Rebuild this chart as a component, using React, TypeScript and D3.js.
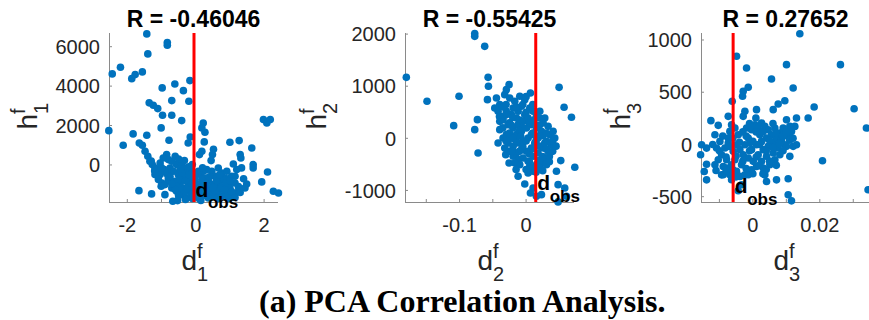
import React from "react";
import * as d3 from "d3";

// Correlation coefficients shown above each panel
const rValues = ["-0.46046", "-0.55425", "0.27652"];
// Observed feature value (vertical red marker) per component
const dObs = [-0.05, 0.0145, -0.0059];

// Component 1: [d1f, h1f]
const comp1: [number, number][] = [
  [-1.43, 6650], [-0.83, 6210], [-0.83, 6075], [-1.4, 5635], [-2.2, 4960], [-2.44, 4620],
  [-1.87, 4380], [-1.77, 4585], [-1.56, 4720], [-0.17, 4280], [-0.61, 4110], [-0.98, 3910],
  [-0.36, 3770], [-0.7, 3265], [-0.2, 3230], [-1.36, 3150], [-1.24, 3030], [-1.11, 2860],
  [-0.97, 2520], [-0.7, 2520], [-0.41, 2250], [-1.01, 1880], [-2.54, 1740], [-1.83, 1575],
  [-1.43, 1505], [-2.12, 1000], [-1.65, 1115], [-1.56, 1000], [-0.78, 1250], [0.22, 2130],
  [0.18, 1880], [0.27, 1660], [0.25, 1170], [-0.16, 1420], [-0.22, 1115], [1.98, 2300],
  [2.08, 2130], [2.18, 2300], [1.27, 1235], [1.0, 1150], [1.64, 860], [1.3, 525], [1.32, 355],
  [0.52, 795], [0.49, 525], [0.18, 695], [0.11, 525], [0.45, 220], [1.1, 50], [1.68, 15],
  [1.68, -150], [1.34, -150], [2.1, -355], [1.93, -860], [2.27, -1335], [2.42, -1420],
  [1.49, -965], [1.44, -1170], [-1.66, -1305], [-1.29, -1470], [-0.67, -1840], [-0.53, -1810],
  [-1.48, 694], [-1.4, 440], [-1.34, 186], [-1.27, 17], [-1.19, -152], [-1.11, -321],
  [-1.04, -491], [-1.19, -491], [-1.09, -744], [-0.99, -914], [-0.9, -998], [-0.85, 525],
  [-0.8, 271], [-0.95, 355], [-0.7, 186], [-0.6, 440], [-0.56, 17], [-0.75, -152],
  [-0.65, -321], [-0.51, -491], [-0.41, 17], [-0.31, -152], [-0.36, -575], [-0.26, -829],
  [-0.46, -998], [-0.6, -829], [-0.7, -1167], [-0.56, -1337], [-0.41, -1506], [-0.31, -1252],
  [-0.21, -998], [-0.17, -1337], [-0.26, -1675], [-0.14, -1506], [-0.19, -575], [-0.12, -321],
  [-0.9, -1506], [0.13, -491], [0.27, -660], [0.37, -829], [0.22, -998], [0.47, -321],
  [0.57, -575], [0.66, -152], [0.76, -406], [0.71, -829], [0.86, -660], [0.96, -998],
  [0.81, -1167], [0.61, -1083], [0.47, -1337], [0.27, -1421], [0.13, -1337], [0.08, -998],
  [0.91, -321], [1.05, -575], [1.15, -914], [1.25, -1337], [1.1, -1506], [0.96, -1506],
  [0.76, -1590], [0.57, -1590], [0.37, -1675], [0.18, -1590], [0.03, -1506], [1.15, -575],
  [1.2, -237], [-0.02, -744], [-0.07, -998], [-1.04, 101], [-0.92, -237], [-0.82, -491],
  [-1.01, -1083], [-0.8, -744], [-0.49, -744], [-0.39, -1167], [-0.1, -744], [-0.23, -321],
  [-0.33, 220], [-0.1, 17], [0.32, -237], [0.52, -998], [0.66, -1337], [0.86, -1421],
  [1.0, -1167], [0.81, -744], [0.22, -321], [0.37, -1167], [0.08, -321], [0.18, -744],
  [-0.85, -300], [-0.75, -600], [-0.65, -900], [-0.55, -1100], [-0.45, -1300], [-0.35, -1450],
  [-0.25, -1200], [-0.15, -900], [-0.05, -1100], [-0.1, -1700], [-0.3, -1750], [-0.5, -1550],
  [-0.6, -1250], [-0.7, -950], [-0.8, -600], [-0.9, -350], [-0.4, -400], [-0.3, -800],
  [-0.2, -500], [-0.05, -500], [0.05, -1250], [0.15, -1800], [0.25, -1200], [0.35, -1450],
  [0.45, -1550], [0.55, -1300], [0.65, -1700], [0.75, -1150], [0.85, -1250], [0.95, -1700],
  [1.05, -1350], [1.15, -1650], [1.25, -1100], [0.4, -600], [0.6, -800], [0.7, -500],
  [0.9, -900], [1.0, -800], [0.3, -950], [0.5, -1150], [-1.2, -300], [-1.3, 200], [-1.0, -150],
  [-0.5, 300], [-0.45, -200], [-0.2, -100], [0.2, -150], [1.4, -700], [1.3, -1400], [0.1, -1700],
];

// Component 2: [d2f, h2f]
const comp2: [number, number][] = [
  [-0.18, 1170], [-0.0772, 2010], [-0.0772, 1957], [-0.0622, 1765], [-0.1489, 710],
  [-0.1008, 806], [-0.1088, 243], [-0.0772, 166], [-0.0732, 358], [-0.0722, -281],
  [-0.0571, 1170], [-0.0566, 998], [-0.0581, 742], [-0.0421, -90], [-0.0256, 1030],
  [-0.0296, 934], [0.0065, 870], [0.0496, 978], [0.0571, 595], [0.0682, 403], [0.0732, -556],
  [0.0521, -428], [0.0456, -633], [0.0481, -889], [0.0581, -953], [0.0607, -1113],
  [0.0481, -1220], [0.0065, -1049], [0.0105, -953], [0.0155, -1113], [0.0231, -1081],
  [-0.012, -729], [-0.002, -876], [0.003, -665], [0.0105, -633], [-0.0256, -473], [-0.0306, -313],
  [-0.0446, 774], [-0.0396, 646], [-0.0421, 518], [-0.0371, 422], [-0.0396, 326], [-0.0321, 838],
  [-0.0246, 774], [-0.017, 710], [-0.0195, 582], [-0.012, 518], [-0.007, 614], [-0.002, 454],
  [-0.0145, 390], [-0.0221, 454], [-0.0296, 518], [-0.0346, 358], [-0.0271, 262], [-0.0195, 198],
  [-0.012, 262], [-0.0045, 326], [0.003, 390], [0.008, 262], [0.0005, 198], [-0.007, 134],
  [-0.0145, 70], [-0.0221, 6], [-0.0296, 70], [-0.0271, -90], [-0.0195, -153], [-0.012, -90],
  [-0.0045, -58], [0.003, 6], [0.008, 70], [0.0155, 198], [0.0206, 390], [0.0256, 294],
  [0.0231, 134], [0.018, 6], [0.013, -90], [0.008, -185], [0.0005, -249], [-0.007, -217],
  [-0.0145, -281], [-0.0195, -345], [-0.012, -409], [-0.0045, -377], [0.003, -441], [0.0105, -345],
  [0.018, -281], [0.0256, -185], [0.0306, -58], [0.0356, 70], [0.0406, 134], [0.0431, 6],
  [0.0381, -122], [0.0331, -249], [0.0281, -377], [0.0231, -473], [0.0155, -505], [0.0306, -505],
  [0.0206, -569], [0.013, -569], [0.0055, -537], [-0.0095, -505], [-0.017, -473], [-0.0246, -249],
  [-0.0321, -185], [-0.0346, 6], [-0.0396, 166], [-0.0471, 582], [0.0331, 230], [0.0206, 518],
  [0.0105, 518], [0.0055, 582], [-0.0095, 806], [-0.002, 742], [0.0155, 422], [0.0281, 390],
  [-0.035, 600], [-0.03, 450], [-0.025, 300], [-0.02, 400], [-0.015, 600], [-0.01, 350],
  [-0.005, 200], [0, 500], [0.005, 300], [0.01, 100], [0.015, -50], [-0.035, 200], [-0.03, -50],
  [-0.025, 100], [-0.02, -250], [-0.015, -50], [-0.01, 150], [-0.005, -150], [0, -50],
  [0.005, -300], [0.01, -200], [0.015, 50], [0.02, -150], [0.025, -350], [0.03, -200],
  [0.035, -350], [0.04, -50], [0.02, 250], [0.025, 50], [0.03, 100], [-0.005, 650], [0.01, 650],
  [-0.02, 0], [-0.01, -250], [0.005, -450], [0.02, -420], [0.015, -650], [0.025, -620],
  [-0.03, 650], [-0.04, 420], [0.0, -600], [-0.015, -600], [0.035, -450], [0.04, -250],
  [0.045, -150], [0.0, 800], [0.012, 350], [-0.008, 40], [0.028, -90], [-0.022, 250],
];

// Component 3: [d3f, h3f]
const comp3: [number, number][] = [
  [0.01403, 1060], [-0.00488, 844], [-0.00189, 732], [0.01005, 764], [0.02617, 764],
  [0.00557, 627], [0.01204, 541], [-0.00139, 547], [-0.00289, 509], [-0.00308, 461],
  [-0.00617, 413], [0.00955, 419], [0.00756, 387], [0.00607, 333], [0.01831, 358],
  [0.03025, 342], [0.01652, 253], [0.01303, 253], [0.01005, 237], [0.03393, 157],
  [0.00109, 333], [0.0009, 253], [-0.00239, 317], [-0.00289, 269], [-0.00736, 269],
  [-0.01254, 228], [-0.01035, 183], [-0.01532, -3], [-0.01383, -35], [-0.01562, -99],
  [-0.01383, -189], [-0.01453, -259], [-0.01383, -339], [0.0208, -156], [0.01055, -328],
  [0.01055, -482], [0.01154, -540], [0.03443, -434], [-0.00438, -444], [0.00408, -355],
  [0.00706, -339], [0.00358, -291], [-0.00935, -291], [-0.00886, -211],
  [-0.01134, 93], [-0.00985, 29], [-0.01085, -34], [-0.00935, -98], [-0.00786, -146],
  [-0.00836, -34], [-0.00736, 61], [-0.00687, 125], [-0.00637, 189], [-0.00537, 157],
  [-0.00438, 93], [-0.00488, -3], [-0.00587, -66], [-0.00537, -146], [-0.00637, -194],
  [-0.00786, -226], [-0.00488, -258], [-0.00338, -194], [-0.00289, -98], [-0.00239, -3],
  [-0.00139, 61], [-0.00189, 157], [-0.0004, 141], [0.0006, 189], [0.00159, 157],
  [0.00259, 205], [0.00358, 173], [0.00458, 141], [0.00557, 93], [0.00408, 61], [0.00259, 29],
  [0.00109, -3], [-0.0004, -50], [-0.00139, -130], [0.0001, -162], [0.00159, -98],
  [0.00308, -50], [0.00458, -18], [0.00607, 13], [0.00706, 61], [0.00806, 109], [0.00905, 157],
  [0.00856, 45], [0.00756, -34], [0.00607, -82], [0.00408, -114], [0.00259, -162],
  [0.00109, -210], [-0.0004, -242], [-0.00239, -290], [-0.00388, -306], [0.00657, -146],
  [0.00507, -194], [0.00806, -98], [0.00955, -3], [0.01055, 77], [0.01154, 125], [0.01254, 173],
  [0.01005, -18], [0.01204, -18], [0.01303, -3], [0.01104, -114], [0.00308, -226],
  [-0.00139, -290], [-0.00687, -290], [-0.00886, -290], [-0.00338, -386], [-0.00637, -338],
  [-0.01035, -146], [-0.01134, -194], [-0.00736, 13], [-0.00388, -50], [-0.0009, 13],
  [0.00209, 93], [0.00657, 157], [0.01104, 173],
  [-0.01, -60], [-0.009, 80], [-0.008, -120], [-0.007, -20], [-0.006, 60], [-0.005, -110],
  [-0.004, 20], [-0.003, -160], [-0.002, 80], [-0.001, -60], [0, 30], [0.001, -120], [0.002, 0],
  [0.003, 120], [0.004, -60], [0.005, 40], [0.006, -30], [0.007, 110], [0.008, 10], [0.009, 80],
  [0.002, -200], [0.0, -280], [-0.002, -230], [-0.005, -310], [-0.008, -250], [0.004, -240],
  [-0.003, 120], [0.001, 120], [0.006, 200], [0.009, -60], [0.011, 40], [-0.011, -250],
  [-0.012, 0], [0.003, -280], [-0.001, 200], [0.005, -160], [-0.006, -240], [0.007, -200],
  [0.01, 120], [0.012, 60],
];

const points = [comp1, comp2, comp3];
const xDomains: [number, number][] = [[-2.535, 2.406], [-0.182, 0.072], [-0.0155, 0.035]];
const yDomains: [number, number][] = [[-1880, 6695], [-1222, 2021], [-551, 1067]];
const xTicks = [[-2, -1, 0, 1, 2], [-0.15, -0.1, -0.05, 0, 0.05], [-0.01, 0, 0.01, 0.02, 0.03]];
const xTickLabels = [[-2, 0, 2], [-0.1, 0], [0, 0.02]];
const yTicks = [[0, 2000, 4000, 6000], [-1000, 0, 1000, 2000], [-500, 0, 500, 1000]];
const componentIds = ["1", "2", "3"];

const SANS = "'Liberation Sans', Arial, Helvetica, sans-serif";
const SERIF = "'Liberation Serif', 'Times New Roman', serif";
const BLUE = "#0072BD";
const AXIS = "#8a8a8a";
const TEXT = "#262626";

const panelLeft = [109, 405, 701];
const panelWidth = 169;
const top = 33;
const bottom = 202;
const yLabelX = [37, 326, 630];
const obsBaseline = [196.5, 190, 193];

const fmt = (v: number) => (v < 0 ? "-" : "") + String(Math.abs(v));

function Panel({ i }: { i: number }) {
  const x = d3.scaleLinear().domain(xDomains[i]).range([panelLeft[i], panelLeft[i] + panelWidth]);
  const y = d3.scaleLinear().domain(yDomains[i]).range([bottom, top]);
  const cx = panelLeft[i] + panelWidth / 2;
  const left = panelLeft[i];
  const right = panelLeft[i] + panelWidth;
  const rx = x(dObs[i]);
  return (
    <g>
      {/* axes (box off, ticks inward) */}
      <line x1={left + 0.5} x2={left + 0.5} y1={top} y2={bottom} stroke={AXIS} strokeWidth={1} />
      <line x1={left} x2={right} y1={bottom + 0.5} y2={bottom + 0.5} stroke={AXIS} strokeWidth={1} />
      {xTicks[i].map((t) => (
        <line key={"xt" + t} x1={x(t)} x2={x(t)} y1={bottom} y2={bottom - 3} stroke={AXIS} strokeWidth={1} />
      ))}
      {yTicks[i].map((t) => (
        <line key={"yt" + t} x1={left} x2={left + 3} y1={y(t)} y2={y(t)} stroke={AXIS} strokeWidth={1} />
      ))}
      {xTickLabels[i].map((t) => (
        <text key={"xl" + t} x={x(t)} y={231.5} textAnchor="middle" fontFamily={SANS} fontSize={20} fill={TEXT}>
          {fmt(t)}
        </text>
      ))}
      {yTicks[i].map((t) => (
        <text key={"yl" + t} x={left - 9} y={y(t)} dy="0.36em" textAnchor="end" fontFamily={SANS} fontSize={20} fill={TEXT}>
          {fmt(t)}
        </text>
      ))}
      {/* samples */}
      {points[i].map(([d, h], k) => (
        <circle key={k} cx={x(d)} cy={y(h)} r={3.8} fill={BLUE} />
      ))}
      {/* observed value */}
      <line x1={rx} x2={rx} y1={top} y2={bottom} stroke="#ff0000" strokeWidth={3} />
      <text x={rx + 1.5} y={obsBaseline[i]} fontFamily={SANS} fontWeight="bold" fontSize={21} fill="#000">
        d
      </text>
      <text x={rx + 14} y={obsBaseline[i] + 11.5} fontFamily={SANS} fontWeight="bold" fontSize={17} fill="#000">
        obs
      </text>
      {/* title */}
      <text x={cx} y={26.5} textAnchor="middle" fontFamily={SANS} fontWeight="bold" fontSize={23} fill="#000">
        {"R = " + rValues[i]}
      </text>
      {/* x label d^f_i */}
      <g fontFamily={SANS} fill={TEXT}>
        <text x={cx - 12} y={270} fontSize={28}>d</text>
        <text x={cx + 3.5} y={258} fontSize={20}>f</text>
        <text x={cx + 3.5} y={281} fontSize={20}>{componentIds[i]}</text>
      </g>
      {/* y label h^f_i */}
      <g fontFamily={SANS} fill={TEXT} transform={`translate(${yLabelX[i]},${(top + bottom) / 2}) rotate(-90)`}>
        <text x={-12} y={0} fontSize={28}>h</text>
        <text x={3.5} y={-12} fontSize={20}>f</text>
        <text x={3.5} y={11} fontSize={20}>{componentIds[i]}</text>
      </g>
    </g>
  );
}

export default function App() {
  return (
    <div style={{ position: "absolute", left: 0, top: 0, width: 869, height: 320, background: "#fff", overflow: "hidden" }}>
      <svg width={869} height={320} viewBox="0 0 869 320" style={{ display: "block" }}>
        <rect width={869} height={320} fill="#fff" />
        {[0, 1, 2].map((i) => (
          <Panel key={i} i={i} />
        ))}
        <text x={259} y={312} fontFamily={SERIF} fontWeight="bold" fontSize={32} fill="#000">
          (a) PCA Correlation Analysis.
        </text>
      </svg>
    </div>
  );
}
